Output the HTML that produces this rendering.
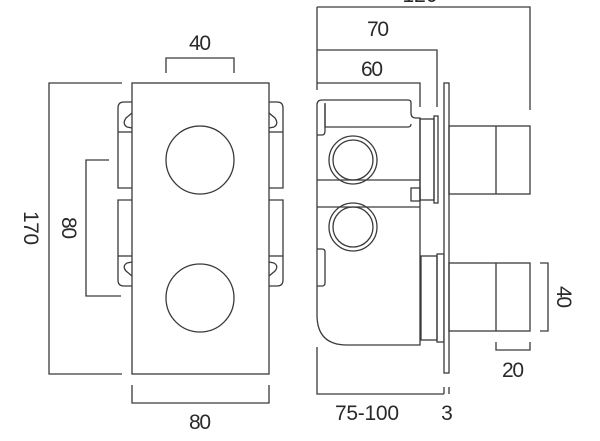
<!DOCTYPE html>
<html><head><style>
html,body{margin:0;padding:0;background:#fff;}
svg{display:block;}
text{font-family:"Liberation Sans",sans-serif;font-size:21px;fill:#2a2a2a;}
</style></head><body>
<svg width="600" height="441" viewBox="0 0 600 441" xmlns="http://www.w3.org/2000/svg">
<g fill="none" stroke="#3a3a3a" stroke-width="1.3">
<rect x="132" y="83" width="137" height="291" fill="#fff"/>
<circle cx="200" cy="160" r="34"/>
<circle cx="200" cy="298" r="34"/>
<path d="M132 102 H124 Q118 102 118 108 V188 H132"/>
<line x1="118" y1="132" x2="132" y2="132"/>
<path d="M132 113 L126 118 Q122 124 127 127 L132 128"/>
<path d="M132 200 H118 V280 Q118 286 124 286 H132"/>
<line x1="118" y1="256" x2="132" y2="256"/>
<path d="M132 262 L127 263 Q122 266 126 271 L132 276"/>
<path d="M269 102 H277 Q283 102 283 108 V188 H269"/>
<line x1="269" y1="132" x2="283" y2="132"/>
<path d="M269 113 L275 118 Q279 124 274 127 L269 128"/>
<path d="M269 200 H283 V280 Q283 286 277 286 H269"/>
<line x1="269" y1="256" x2="283" y2="256"/>
<path d="M269 262 L274 263 Q279 266 275 271 L269 276"/>
<path d="M166 73 V58 H234 V73"/>
<path d="M122 83 H49 V374 H122"/>
<path d="M109 160 H86 V296 H121"/>
<path d="M132 385 V403 H269 V385"/>

<path d="M317 7 H530 V110"/>
<line x1="317" y1="7" x2="317" y2="90"/>
<path d="M317 50 H437 V107"/>
<path d="M317 83 H420 V107"/>
<path d="M317 105 Q317 100 322 100 H408 Q411 100 411 103 V113 Q411 118 416 118 H420 V345 H347 Q317 345 317 315 Z"/>
<path d="M325 103 V127 H408 Q411 127 411 124"/>
<path d="M317 135 H322 Q325 135 325 131 V104"/>
<path d="M317 249 H322 Q325 249 325 252 V283 Q325 286 322 286 H317"/>
<line x1="317" y1="180" x2="420" y2="180"/>
<line x1="317" y1="207" x2="420" y2="207"/>
<rect x="411" y="188" width="9" height="13"/>
<circle cx="353" cy="160" r="24"/>
<circle cx="353" cy="160" r="20"/>
<circle cx="353" cy="227" r="24"/>
<circle cx="353" cy="227" r="20"/>
<rect x="420" y="119" width="14" height="81"/>
<rect x="434" y="116" width="4" height="87"/>
<rect x="421" y="256" width="16" height="84"/>
<rect x="437" y="254" width="7" height="88"/>
<rect x="444" y="83" width="5" height="290" fill="#fff"/>
<rect x="449" y="126" width="81" height="68"/>
<line x1="496" y1="126" x2="496" y2="194"/>
<rect x="449" y="263" width="81" height="68"/>
<line x1="496" y1="263" x2="496" y2="331"/>
<path d="M317 347 V394 H444"/>
<path d="M444 387 V394 M449 387 V394"/>
<path d="M540 263 H548 V331 H540"/>
<path d="M496 342 V350 H530 V342"/>
</g>
<g transform="scale(1,1)">
<text x="200" y="50" text-anchor="middle" textLength="22">40</text>
<text x="200" y="429" text-anchor="middle" textLength="22">80</text>
<text transform="translate(24,228) rotate(90)" text-anchor="middle" textLength="34">170</text>
<text transform="translate(62,228) rotate(90)" text-anchor="middle" textLength="22">80</text>
<text x="378" y="36" text-anchor="middle" textLength="22">70</text>
<text x="372" y="76" text-anchor="middle" textLength="22">60</text>
<text x="420" y="2" text-anchor="middle">120</text>
<text x="367" y="420" text-anchor="middle" textLength="64">75-100</text>
<text x="447" y="420" text-anchor="middle">3</text>
<text x="513" y="377" text-anchor="middle" textLength="22">20</text>
<text transform="translate(557,297) rotate(90)" text-anchor="middle" textLength="22">40</text>
</g>
</svg>
</body></html>
